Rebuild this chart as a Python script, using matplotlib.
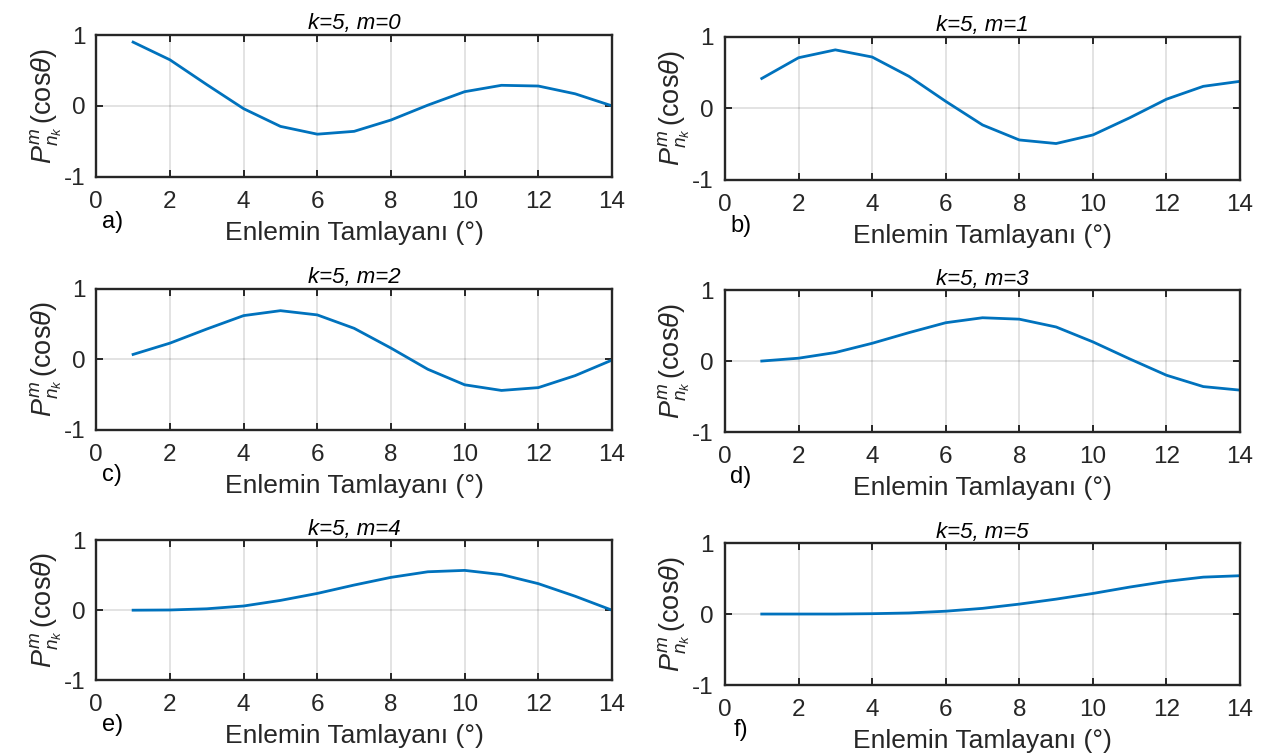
import numpy as np
import matplotlib
matplotlib.use("Agg")
import matplotlib.pyplot as plt

# -------------------------------
# Data
# -------------------------------
x = [1, 2, 3, 4, 5, 6, 7, 8, 9, 10, 11, 12, 13, 14]

m0 = [0.90, 0.65, 0.30, -0.04, -0.29, -0.40, -0.36, -0.20, 0.01, 0.20, 0.29, 0.28, 0.17, 0.00]
m1 = [0.42, 0.71, 0.82, 0.72, 0.45, 0.10, -0.23, -0.44, -0.49, -0.37, -0.13, 0.13, 0.31, 0.38]
m2 = [0.07, 0.23, 0.43, 0.62, 0.69, 0.63, 0.44, 0.16, -0.14, -0.36, -0.44, -0.40, -0.23, -0.01]
m3 = [0.00, 0.04, 0.12, 0.25, 0.40, 0.54, 0.61, 0.59, 0.48, 0.27, 0.03, -0.20, -0.36, -0.41]
m4 = [0.00, 0.003, 0.02, 0.06, 0.14, 0.24, 0.36, 0.47, 0.55, 0.57, 0.51, 0.38, 0.20, 0.00]
m5 = [0.00, 0.00, 0.00, 0.005, 0.015, 0.04, 0.08, 0.14, 0.21, 0.29, 0.38, 0.46, 0.52, 0.54]

series = [m0, m1, m2, m3, m4, m5]
titles = ["k=5, m=0", "k=5, m=1", "k=5, m=2", "k=5, m=3", "k=5, m=4", "k=5, m=5"]
letters = ["a)", "b)", "c)", "d)", "e)", "f)"]
xticks = [0, 2, 4, 6, 8, 10, 12, 14]
yticks = [-1, 0, 1]
ytick_labels = ["-1", "0", "1"]

# -------------------------------
# Style
# -------------------------------
plt.rcParams["font.family"] = ["Liberation Sans", "DejaVu Sans"]
plt.rcParams["mathtext.fontset"] = "custom"
plt.rcParams["mathtext.rm"] = "Liberation Sans"
plt.rcParams["mathtext.it"] = "Liberation Sans:italic"
plt.rcParams["mathtext.bf"] = "Liberation Sans:bold"

LINE = "#0072BD"
DARK = "#262626"

# axes rectangles in figure fractions [left, bottom, width, height]
rects = [
    [0.0755, 0.7660, 0.4045, 0.1876],
    [0.5686, 0.7616, 0.4040, 0.1894],
    [0.0755, 0.4305, 0.4045, 0.187],
    [0.5686, 0.4278, 0.4040, 0.188],
    [0.0755, 0.0993, 0.4045, 0.185],
    [0.5686, 0.0927, 0.4040, 0.188],
]

fig = plt.figure(figsize=(12.75, 7.55), dpi=100)

for i in range(6):
    ax = fig.add_axes(rects[i])
    ax.plot(x, series[i], color=LINE, linewidth=2.0)
    ax.set_xlim(0, 14)
    ax.set_ylim(-1, 1)
    ax.set_xticks(xticks)
    ax.set_yticks(yticks)
    ax.set_yticklabels(ytick_labels)
    ax.grid(True, color="black", alpha=0.13, linewidth=1.2)
    ax.tick_params(direction="in", top=True, right=True, length=5,
                   width=1.4, color=DARK, labelsize=17.5, labelcolor=DARK)
    ax.tick_params(axis="x", pad=10)
    ax.tick_params(axis="y", pad=8)
    for sp in ax.spines.values():
        sp.set_linewidth(1.7)
        sp.set_color(DARK)
    ax.set_title(titles[i], fontsize=16, style="italic", color="black", pad=4)
    ax.set_xlabel("Enlemin Tamlayanı (°)", fontsize=19, color=DARK, labelpad=6)
    ax.set_ylabel(r"$P^{m}_{n_{k}}\,(\mathrm{cos}\theta)$", fontsize=19.5,
                  color=DARK, labelpad=0)
    ax.text(0.031, -0.32, letters[i], transform=ax.transAxes, fontsize=17,
            color="black", ha="center", va="center")

fig.savefig("out.png", dpi=100)
